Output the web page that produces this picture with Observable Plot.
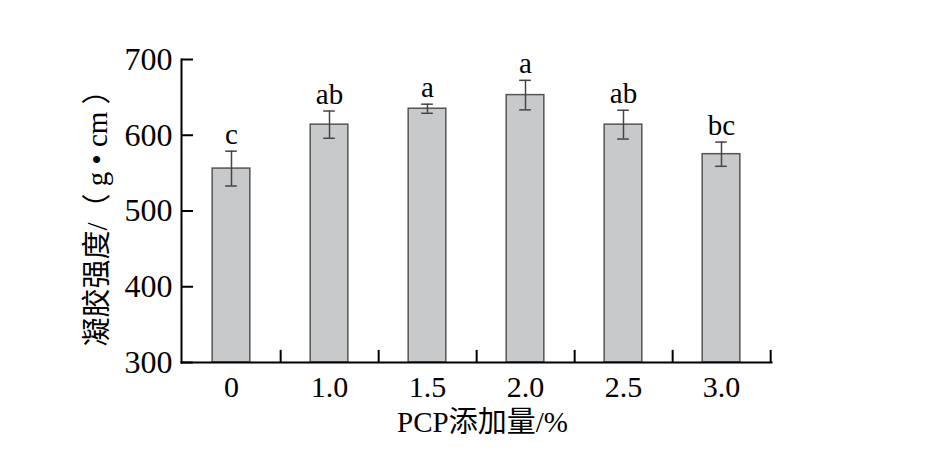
<!DOCTYPE html>
<html><head><meta charset="utf-8">
<script src="https://cdn.jsdelivr.net/npm/d3@7"></script>
<script src="https://cdn.jsdelivr.net/npm/@observablehq/plot@0.6"></script>
<style>body{margin:0;background:#fff}</style>
</head><body><div id="chart"></div>
<script>
const categories = ["0", "1.0", "1.5", "2.0", "2.5", "3.0"];
const means = [556, 614, 635, 653, 614, 575];
const errors = [23, 18, 6, 19.5, 19, 16];
const letters = ["c", "ab", "a", "a", "ab", "bc"];
const yTicks = [300, 400, 500, 600, 700];
const xTitle = "PCP添加量/%";
const yTitle = "凝胶强度/（ g • cm ）";

const data = categories.map((c, i) => ({cat: c, mean: means[i], err: errors[i], letter: letters[i]}));
const W = 940, H = 462, mL = 181, mR = 169, mT = 59, mB = 100;
const step = (W - mL - mR) / categories.length;
const barInset = (step - 38) / 2;
const capInset = (step - 12) / 2;
const serif = '"Liberation Serif","Times New Roman","Noto Sans CJK SC",serif';

const chart = Plot.plot({
  width: W, height: H,
  marginLeft: mL, marginRight: mR, marginTop: mT, marginBottom: mB,
  style: {fontFamily: serif, fontSize: "28px", background: "#fff", color: "#000", overflow: "visible"},
  x: {domain: categories, padding: 0, label: null, axis: null},
  y: {domain: [300, 700], label: null, axis: null},
  marks: [
    Plot.barY(data, {x: "cat", y1: 300, y2: "mean", fill: "#c8c9cb", stroke: "#555", strokeWidth: 1.5, insetLeft: barInset, insetRight: barInset}),
    Plot.ruleX(data, {x: "cat", y1: d => d.mean - d.err, y2: d => d.mean + d.err, stroke: "#444", strokeWidth: 1.5}),
    Plot.tickY(data, {x: "cat", y: d => d.mean + d.err, stroke: "#444", strokeWidth: 1.5, insetLeft: capInset, insetRight: capInset}),
    Plot.tickY(data, {x: "cat", y: d => d.mean - d.err, stroke: "#444", strokeWidth: 1.5, insetLeft: capInset, insetRight: capInset}),
    Plot.text(data, {x: "cat", y: d => d.mean + d.err, text: "letter", dy: -7, lineAnchor: "bottom", fontSize: 29, fill: "#000"}),
    Plot.ruleX(categories, {x: d => d, y1: 300, y2: 316, dx: step / 2, stroke: "#000", strokeWidth: 2}),
    Plot.axisX({tickSize: 0, tickPadding: 13, fontSize: 30, fill: "#000"}),
    Plot.axisY({ticks: yTicks, tickSize: -12, tickPadding: 21, fontSize: 32, stroke: "#000", strokeWidth: 2, fill: "#000"}),
    Plot.frame({anchor: "left", stroke: "#000", strokeWidth: 2}),
    Plot.frame({anchor: "bottom", stroke: "#000", strokeWidth: 2}),
    Plot.text([xTitle], {frameAnchor: "bottom", dy: 60, dx: 6, lineAnchor: "middle", fontSize: 29, fill: "#000"}),
    Plot.text([yTitle], {frameAnchor: "left", dx: -84, rotate: -90, textAnchor: "middle", lineAnchor: "middle", fontSize: 29, fill: "#000"})
  ]
});
document.getElementById("chart").append(chart);
</script>
</body></html>
